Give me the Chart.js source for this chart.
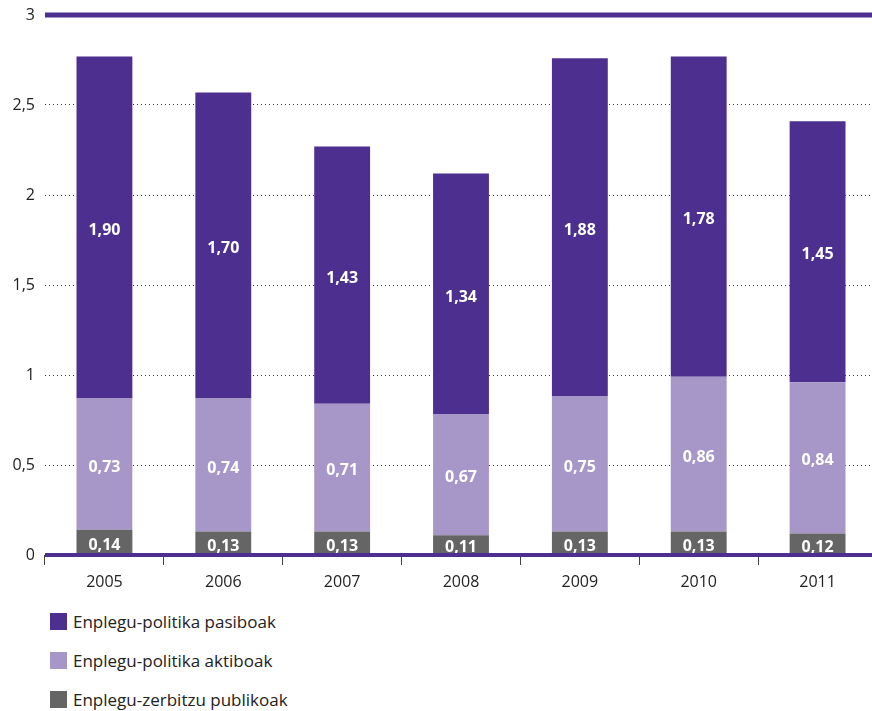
<!DOCTYPE html>
<html>
<head>
<meta charset="utf-8">
<script src="https://cdn.jsdelivr.net/npm/chart.js@4/dist/chart.umd.min.js"></script>
<style>
  body { margin: 0; background: #fff; font-family: "Open Sans", sans-serif; }
  #wrap { position: relative; width: 872px; height: 600px; }
  #legend { margin: 0; padding: 0; list-style: none; }
  #legend li { position: absolute; left: 50px; font-size: 17px; color: #222; height: 18px; line-height: 18px; }
  #legend span { display: inline-block; width: 17px; height: 17px; vertical-align: top; margin-right: 6px; }
</style>
</head>
<body>
<div id="wrap"><canvas id="myChart" width="872" height="600"></canvas></div>
<ul id="legend"></ul>
<script>
const years = ['2005', '2006', '2007', '2008', '2009', '2010', '2011'];
const zerbitzu = [0.14, 0.13, 0.13, 0.11, 0.13, 0.13, 0.12];
const aktiboak = [0.73, 0.74, 0.71, 0.67, 0.75, 0.86, 0.84];
const pasiboak = [1.90, 1.70, 1.43, 1.34, 1.88, 1.78, 1.45];

const purple = '#4d2f8f';
const lilac = '#a797c9';
const grey = '#656565';

function fmt(v) { return v.toFixed(2).replace('.', ','); }

// white values inside every segment
const segLabels = {
    id: 'segLabels',
    afterDatasetsDraw(chart) {
        const ctx = chart.ctx;
        ctx.save();
        ctx.fillStyle = '#fff';
        ctx.font = 'bold 16px "Open Sans"';
        ctx.textAlign = 'center';
        ctx.textBaseline = 'middle';
        chart.data.datasets.forEach((ds, i) => {
            chart.getDatasetMeta(i).data.forEach((bar, j) => {
                const y = (bar.y + bar.base) / 2;
                ctx.fillText(fmt(ds.data[j]), bar.x, y + 3);
            });
        });
        ctx.restore();
    }
};

// thick purple lines at 0 and 3
const edgeLines = {
    id: 'edgeLines',
    afterDatasetsDraw(chart) {
        const ctx = chart.ctx;
        const y = chart.scales.y;
        const a = chart.chartArea;
        ctx.save();
        ctx.strokeStyle = purple;
        ctx.lineWidth = 5;
        let p = y.getPixelForValue(3);
        ctx.beginPath(); ctx.moveTo(a.left, p); ctx.lineTo(chart.width, p); ctx.stroke();
        ctx.lineWidth = 4;
        p = y.getPixelForValue(0);
        ctx.beginPath(); ctx.moveTo(a.left, p); ctx.lineTo(chart.width, p); ctx.stroke();
        ctx.restore();
    }
};

const chart = new Chart(document.getElementById('myChart'), {
    type: 'bar',
    data: {
        labels: years,
        datasets: [
            { label: 'Enplegu-zerbitzu publikoak', data: zerbitzu, backgroundColor: grey },
            { label: 'Enplegu-politika aktiboak', data: aktiboak, backgroundColor: lilac },
            { label: 'Enplegu-politika pasiboak', data: pasiboak, backgroundColor: purple }
        ]
    },
    options: {
        responsive: false,
        animation: false,
        layout: { padding: { top: 15, right: 0, left: 0, bottom: 0 } },
        datasets: { bar: { categoryPercentage: 1, barPercentage: 0.47 } },
        plugins: {
            legend: { display: false },
            tooltip: { enabled: false }
        },
        scales: {
            x: {
                stacked: true,
                border: { display: false },
                grid: { offset: true, drawOnChartArea: false, drawTicks: true, tickLength: 10, color: '#444', lineWidth: 1 },
                ticks: { color: '#222', font: { family: 'Open Sans', size: 16 }, padding: 8 },
                afterFit(s) { s.height = 45; }
            },
            y: {
                stacked: true,
                min: 0,
                max: 3,
                border: { display: false, dash: [1, 3] },
                grid: {
                    drawTicks: false,
                    color: c => (c.tick.value === 0 || c.tick.value === 3) ? 'rgba(0,0,0,0)' : '#333',
                    lineWidth: 1
                },
                ticks: {
                    stepSize: 0.5,
                    padding: 10,
                    color: '#222',
                    font: { family: 'Open Sans', size: 16 },
                    callback: v => String(v).replace('.', ',')
                },
                afterFit(s) { s.width = 45; }
            }
        }
    },
    plugins: [segLabels, edgeLines, {
        id: 'fixArea',
        afterLayout(chart) {
            // pin the plot area to the reference frame
            const a = chart.chartArea;
            const y = chart.scales.y;
            const x = chart.scales.x;
            y.top = 15; y.bottom = 555; y.height = 540;
            a.top = 15; a.bottom = 555; a.height = 540;
            y.configure();
            x.right = 877; x.width = x.right - x.left;
            a.right = 877; a.width = a.right - a.left;
            y.right = y.right;
            x.configure();
        }
    }]
});

// legend, pasiboak first
const legend = document.getElementById('legend');
const order = [2, 1, 0];
const tops = [613, 652, 691];
order.forEach((i, k) => {
    const ds = chart.data.datasets[i];
    const li = document.createElement('li');
    li.style.top = tops[k] + 'px';
    li.innerHTML = '<span style="background:' + ds.backgroundColor + '"></span>' + ds.label;
    legend.appendChild(li);
});
</script>
</body>
</html>
